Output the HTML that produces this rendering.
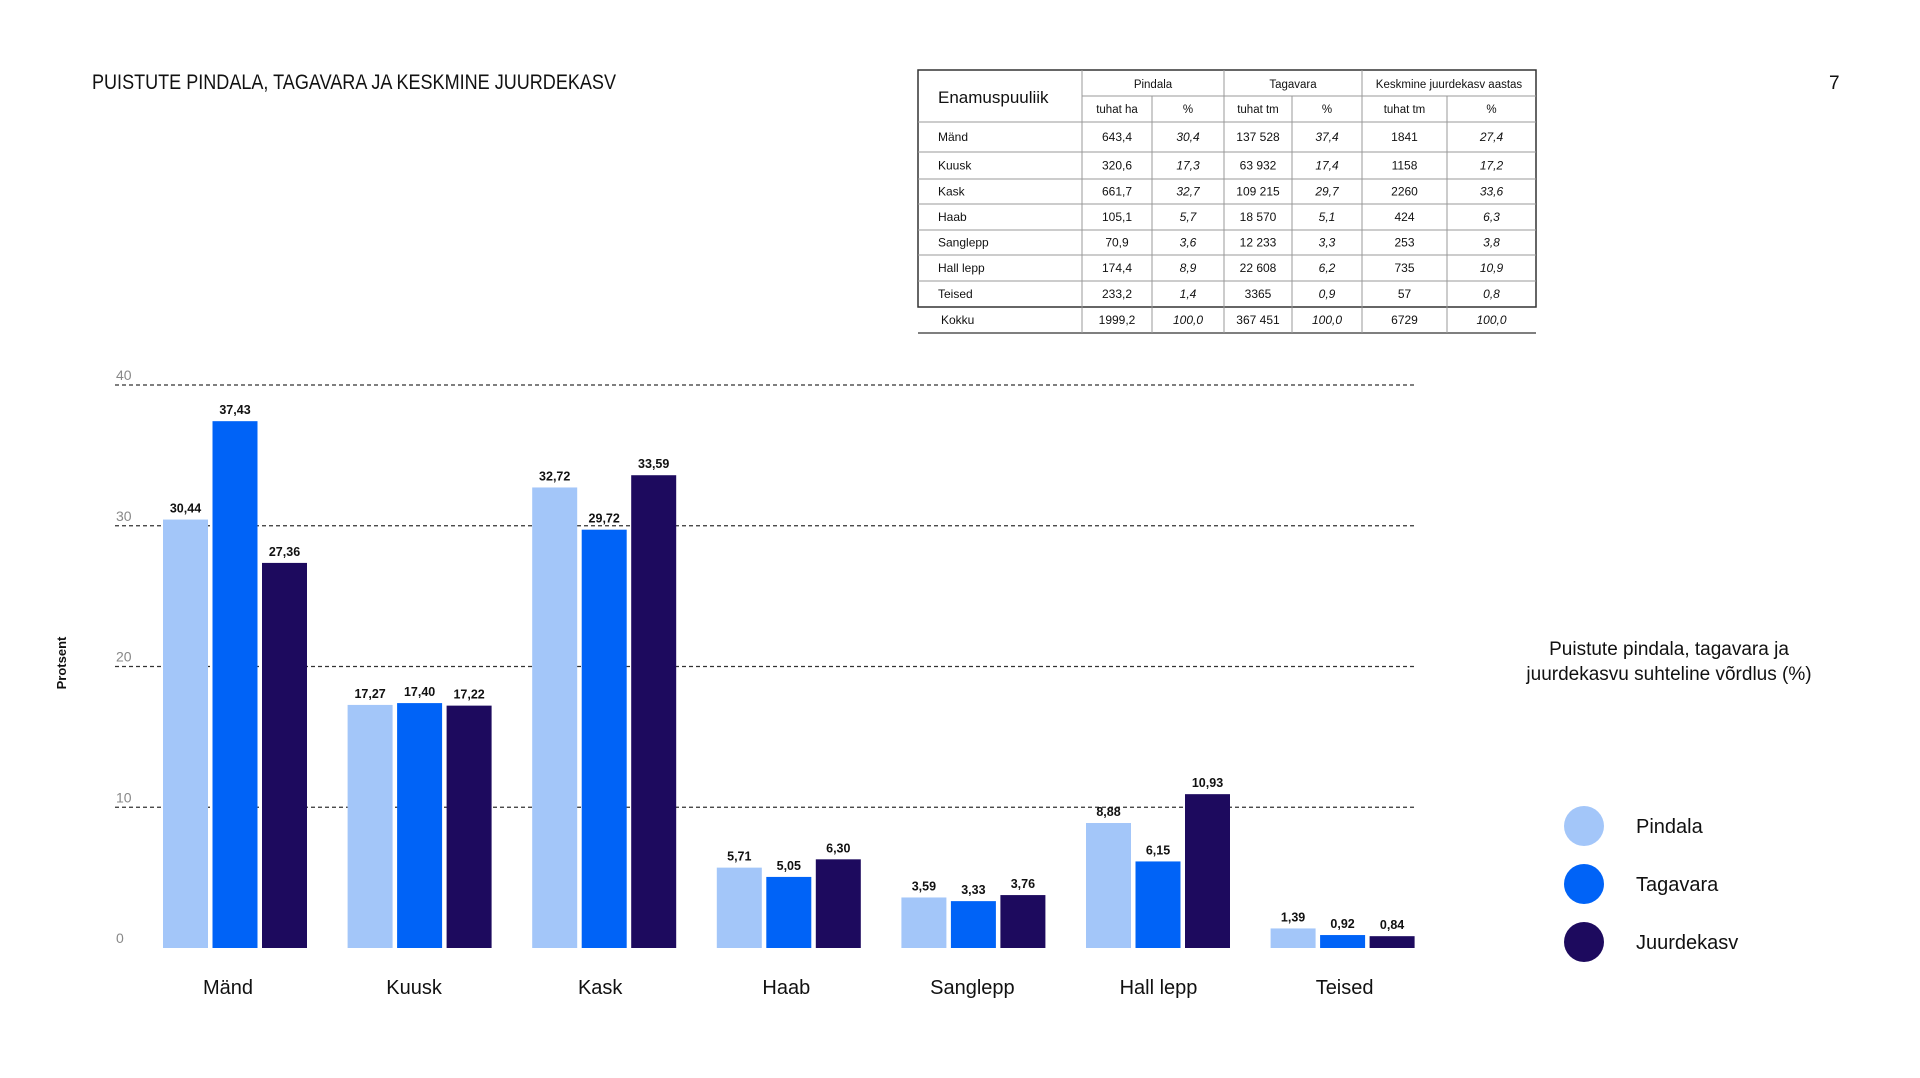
<!DOCTYPE html>
<html><head><meta charset="utf-8"><style>
html,body{margin:0;padding:0;background:#fff;}
svg{display:block;font-family:"Liberation Sans",sans-serif;}
</style></head><body>
<svg id="page" width="1920" height="1078" viewBox="0 0 1920 1078">
<text x="92" y="89" font-size="21" fill="#111" textLength="524" lengthAdjust="spacingAndGlyphs">PUISTUTE PINDALA, TAGAVARA JA KESKMINE JUURDEKASV</text>
<text x="1829" y="89" font-size="19" fill="#111">7</text>
<g id="table"></g>
<g id="chart"></g>
<g>
<text x="1669" y="655" font-size="19" text-anchor="middle" fill="#111">Puistute pindala, tagavara ja</text>
<text x="1669" y="680" font-size="19" text-anchor="middle" fill="#111">juurdekasvu suhteline võrdlus (%)</text>
<g><circle cx="1584" cy="826" r="20" fill="#a3c6f9"/><text x="1636" y="833" font-size="20" fill="#111">Pindala</text></g>
<g><circle cx="1584" cy="884" r="20" fill="#0063f7"/><text x="1636" y="891" font-size="20" fill="#111">Tagavara</text></g>
<g><circle cx="1584" cy="942" r="20" fill="#1d0a5e"/><text x="1636" y="949" font-size="20" fill="#111">Juurdekasv</text></g>
</g>
</svg>
<script>
const categories = ["Mänd","Kuusk","Kask","Haab","Sanglepp","Hall lepp","Teised"];
const pindala = [30.44,17.27,32.72,5.71,3.59,8.88,1.39];
const tagavara = [37.43,17.40,29.72,5.05,3.33,6.15,0.92];
const juurdekasv = [27.36,17.22,33.59,6.30,3.76,10.93,0.84];
const yTicks = [0,10,20,30,40];

const NS = "http://www.w3.org/2000/svg";
function mk(tag, attrs, parent, txt){const e=document.createElementNS(NS,tag);for(const k in attrs)e.setAttribute(k,attrs[k]);if(txt!==undefined)e.textContent=txt;parent.appendChild(e);return e;}

const chart = document.getElementById('chart');
const y0 = 948, yTop = 385, vMax = 40;
function yScale(v){return y0 - v/vMax*(y0-yTop);}
const gx0 = 163, groupPitch = 184.6, barPitch = 49.5, barW = 45;
function xScale(i,s){return gx0 + i*groupPitch + s*barPitch;}
yTicks.forEach(t=>{
  const y=yScale(t);
  if(t>0){const l=mk('line',{x1:115,x2:1414,y1:y,y2:y,stroke:'#333','stroke-width':1.2,'stroke-dasharray':'4 3'},chart);
  
  }
  const tx=mk('text',{x:116,y:y-5,'font-size':14,fill:'#888'},chart,String(t));
  
  
});
const yt=mk('text',{x:0,y:0,'font-size':13,'font-weight':'bold',fill:'#111','text-anchor':'middle',transform:'translate(66,663) rotate(-90)'},chart,'Protsent');


const series=[[pindala,'#a3c6f9','pindala'],[tagavara,'#0063f7','tagavara'],[juurdekasv,'#1d0a5e','juurdekasv']];
categories.forEach((c,i)=>{
  series.forEach(([vals,col,nm],s)=>{
    const x=xScale(i,s), y=yScale(vals[i]);
    const r=mk('rect',{x:x,y:y,width:barW,height:y0-y,fill:col},chart);
    
    
    const t=mk('text',{x:x+barW/2,y:y-7,'font-size':12.5,'font-weight':'bold',fill:'#111','text-anchor':'middle'},chart,vals[i].toFixed(2).replace('.',','));
    
    
  });
  const cl=mk('text',{x:xScale(i,1)+barW/2-7+i*1.5,y:994,'font-size':20,fill:'#111','text-anchor':'middle'},chart,c);
  
  
});

const tb=document.getElementById('table');
const L=918,R=1536, cols=[918,1082,1152,1224,1292,1362,1447,1536];
const rowsY=[122,152,179,204,230,255,281,307,333];
const rows=[
 ["Mänd","643,4","30,4","137 528","37,4","1841","27,4"],
 ["Kuusk","320,6","17,3","63 932","17,4","1158","17,2"],
 ["Kask","661,7","32,7","109 215","29,7","2260","33,6"],
 ["Haab","105,1","5,7","18 570","5,1","424","6,3"],
 ["Sanglepp","70,9","3,6","12 233","3,3","253","3,8"],
 ["Hall lepp","174,4","8,9","22 608","6,2","735","10,9"],
 ["Teised","233,2","1,4","3365","0,9","57","0,8"],
 ["Kokku","1999,2","100,0","367 451","100,0","6729","100,0"]];
mk('rect',{x:L,y:70,width:R-L,height:237,fill:'none',stroke:'#333','stroke-width':1.5},tb);
mk('line',{x1:L,x2:R,y1:333,y2:333,stroke:'#555','stroke-width':1.5},tb);
mk('line',{x1:cols[1],x2:R,y1:96,y2:96,stroke:'#999','stroke-width':1},tb);
rowsY.slice(0,7).forEach(y=>mk('line',{x1:L,x2:R,y1:y,y2:y,stroke:'#999','stroke-width':1},tb));
[cols[1],cols[3],cols[5]].forEach(x=>mk('line',{x1:x,x2:x,y1:70,y2:333,stroke:'#999','stroke-width':1},tb));
[cols[2],cols[4],cols[6]].forEach(x=>mk('line',{x1:x,x2:x,y1:96,y2:333,stroke:'#999','stroke-width':1},tb));
mk('text',{x:938,y:103,'font-size':17,fill:'#111'},tb,'Enamuspuuliik');
[["Pindala",cols[1],cols[3]],["Tagavara",cols[3],cols[5]],["Keskmine juurdekasv aastas",cols[5],R]].forEach(([t,a,b])=>mk('text',{x:(a+b)/2,y:88,'font-size':11.5,fill:'#111','text-anchor':'middle'},tb,t));
["tuhat ha","%","tuhat tm","%","tuhat tm","%"].forEach((t,k)=>mk('text',{x:(cols[k+1]+cols[k+2])/2,y:113,'font-size':11.5,fill:'#111','text-anchor':'middle'},tb,t));
rows.forEach((r,ri)=>{
  const top = ri===0?122:rowsY[ri], bot=rowsY[ri+1];
  const cy=(top+bot)/2+4;
  r.forEach((v,k)=>{
    if(k===0){mk('text',{x:ri===7?941:938,y:cy,'font-size':12,fill:'#111'},tb,v);}
    else{const at={x:(cols[k]+cols[k+1])/2,y:cy,'font-size':12,fill:'#111','text-anchor':'middle'};
      if(k%2===0)at['font-style']='italic';
      mk('text',at,tb,v);}
  });
});
</script>
</body></html>
